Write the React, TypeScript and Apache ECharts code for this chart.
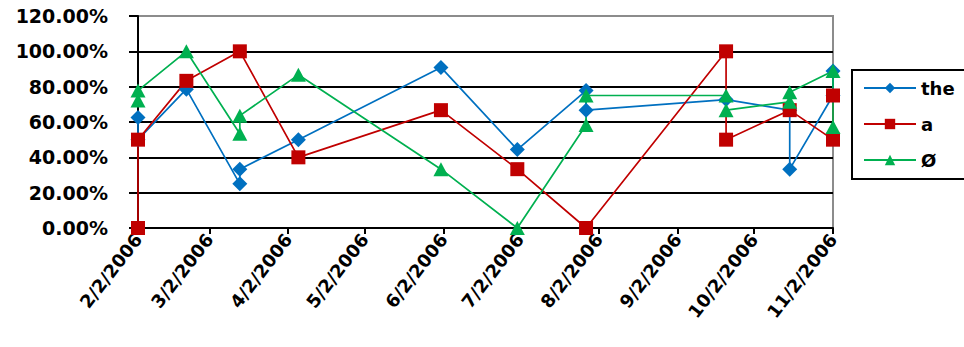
import React, { useEffect, useRef } from "react";
import * as echarts from "echarts";

// Month ticks along the date axis
const tickDates = [
  "2006-02-02", "2006-03-02", "2006-04-02", "2006-05-02", "2006-06-02",
  "2006-07-02", "2006-08-02", "2006-09-02", "2006-10-02", "2006-11-02",
];

// "the"
const theDates = [
  "2006-02-02", "2006-02-02", "2006-02-21", "2006-03-14", "2006-03-14",
  "2006-04-06", "2006-06-01", "2006-07-01", "2006-07-28", "2006-07-28",
  "2006-09-21", "2006-10-16", "2006-10-16", "2006-11-02", "2006-11-02",
];
const theValues = [62.5, 50, 78.6, 25, 33.3, 50, 90.9, 44.4, 77.8, 66.7, 72.7, 66.7, 33.3, 75, 88.9];

// "a"
const aDates = [
  "2006-02-02", "2006-02-02", "2006-02-21", "2006-03-14", "2006-04-06",
  "2006-06-01", "2006-07-01", "2006-07-28", "2006-09-21", "2006-09-21",
  "2006-10-16", "2006-11-02", "2006-11-02",
];
const aValues = [0, 50, 83.3, 100, 40, 66.7, 33.3, 0, 100, 50, 66.7, 50, 75];

// "Ø"
const zeroDates = [
  "2006-02-02", "2006-02-02", "2006-02-21", "2006-03-14", "2006-03-14",
  "2006-04-06", "2006-06-01", "2006-07-01", "2006-07-28", "2006-07-28",
  "2006-09-21", "2006-09-21", "2006-10-16", "2006-10-16", "2006-11-02", "2006-11-02",
];
const zeroValues = [72.2, 77.8, 100, 53.3, 63.6, 86.7, 33.3, 0, 58.3, 75, 75, 66.7, 71.4, 76.9, 88.9, 57.1];

const FONT = "DejaVu Sans";

const toTime = (s: string) => Date.parse(s);
const pairs = (dates: string[], values: number[]) =>
  dates.map((d, i) => [toTime(d), values[i]]);

const fmtDate = (v: number) => {
  const d = new Date(v);
  return `${d.getUTCMonth() + 1}/${d.getUTCDate()}/${d.getUTCFullYear()}`;
};

export default function App() {
  const ref = useRef<HTMLDivElement>(null);

  useEffect(() => {
    if (!ref.current) return;
    const chart = echarts.init(ref.current, null, { renderer: "svg" });
    const ticks = tickDates.map(toTime);

    const lineSeries = (
      name: string,
      dates: string[],
      values: number[],
      color: string,
      symbol: string,
      symbolSize: number | number[]
    ) => ({
      name,
      type: "line",
      data: pairs(dates, values),
      symbol,
      symbolSize,
      showSymbol: true,
      itemStyle: { color },
      lineStyle: { color, width: 1.7 },
      emphasis: { disabled: true },
    });

    chart.setOption({
      animation: false,
      backgroundColor: "#ffffff",
      grid: {
        left: 138,
        right: 131,
        top: 16,
        bottom: 119,
        show: true,
        borderColor: "#8c8c8c",
        borderWidth: 2,
      },
      legend: {
        orient: "vertical",
        left: 852,
        top: 70,
        padding: [9, 60, 10, 11],
        itemGap: 18,
        itemWidth: 52,
        itemHeight: 13,
        borderColor: "#000",
        borderWidth: 2,
        textStyle: { fontFamily: FONT, fontWeight: "bold", fontSize: 18, color: "#000" },
        data: ["the", "a", "Ø"],
      },
      xAxis: {
        type: "value",
        min: ticks[0],
        max: ticks[ticks.length - 1],
        axisLine: { show: true, lineStyle: { color: "#000", width: 2 } },
        axisTick: {
          show: true,
          customValues: ticks,
          length: 6,
          lineStyle: { color: "#000", width: 2 },
        },
        axisLabel: {
          customValues: ticks,
          rotate: 52,
          margin: 8,
          formatter: (v: number) => fmtDate(v),
          fontFamily: FONT,
          fontWeight: "bold",
          fontSize: 18,
          color: "#000",
        },
        splitLine: { show: false },
      },
      yAxis: {
        type: "value",
        min: 0,
        max: 120,
        interval: 20,
        axisLine: { show: true, lineStyle: { color: "#000", width: 2 } },
        axisTick: { show: true, length: 9, lineStyle: { color: "#000", width: 2 } },
        axisLabel: {
          margin: 30,
          formatter: (v: number) => v.toFixed(2) + "%",
          fontFamily: FONT,
          fontWeight: "bold",
          fontSize: 19,
          color: "#000",
        },
        splitLine: {
          show: true,
          lineStyle: {
            color: ["#000", "#000", "#000", "#000", "#000", "#000", "#8c8c8c"],
            width: 2,
          },
        },
      },
      series: [
        lineSeries("the", theDates, theValues, "#0070C0", "diamond", [15, 15]),
        lineSeries("a", aDates, aValues, "#C00000", "rect", 14),
        lineSeries("Ø", zeroDates, zeroValues, "#00B050", "triangle", [15, 14]),
      ],
    });

    return () => chart.dispose();
  }, []);

  return (
    <div
      ref={ref}
      style={{ position: "fixed", left: 0, top: 0, width: 964, height: 347, background: "#fff" }}
    />
  );
}
